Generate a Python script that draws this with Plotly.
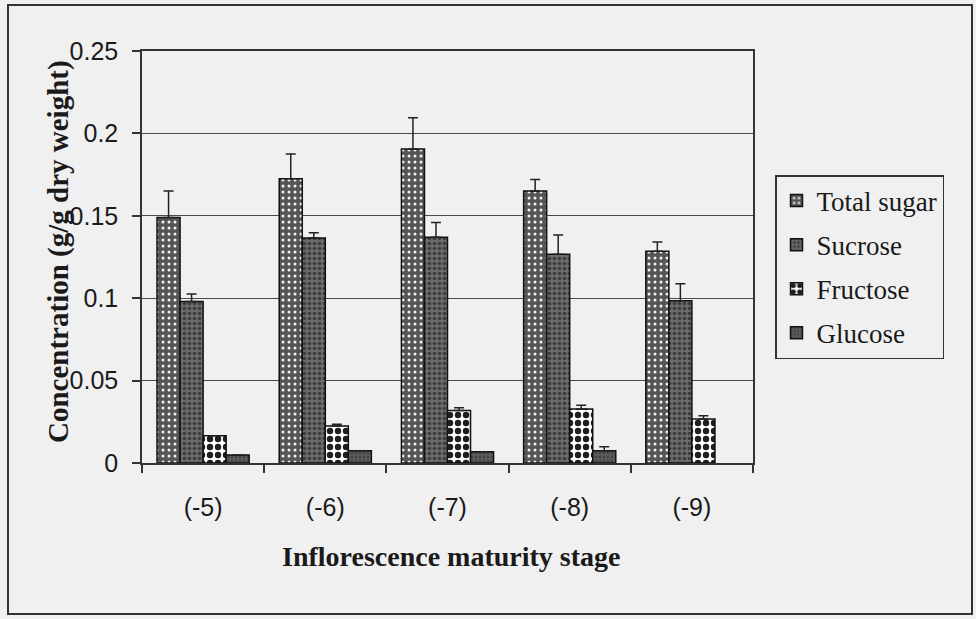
import plotly.graph_objects as go

stages = ["(-5)", "(-6)", "(-7)", "(-8)", "(-9)"]
total_sugar = [0.149, 0.1725, 0.1905, 0.165, 0.1285]
total_err = [0.016, 0.015, 0.019, 0.007, 0.0056]
sucrose = [0.098, 0.1365, 0.137, 0.1266, 0.0985]
sucrose_err = [0.0045, 0.0032, 0.009, 0.0117, 0.0103]
fructose = [0.0166, 0.0225, 0.0318, 0.0328, 0.0267]
fructose_err = [0.0, 0.001, 0.0018, 0.0022, 0.002]
glucose = [0.0049, 0.0075, 0.0069, 0.0075, None]
glucose_err = [0.0, 0.0, 0.0, 0.0024, 0.0]

series = [
    ("Total sugar", total_sugar, total_err, dict(shape=".", bgcolor="#555555", fgcolor="#f2f2f2", size=6, solidity=0.2, fillmode="replace")),
    ("Sucrose", sucrose, sucrose_err, dict(shape=".", bgcolor="#6b6b6b", fgcolor="#3c3c3c", size=5, solidity=0.4, fillmode="replace")),
    ("Fructose", fructose, fructose_err, dict(shape=".", bgcolor="#ffffff", fgcolor="#1e1e1e", size=8, solidity=0.5, fillmode="replace")),
    ("Glucose", glucose, glucose_err, dict(shape=".", bgcolor="#5a5a5a", fgcolor="#444444", size=4, solidity=0.3, fillmode="replace")),
]

W, H = 976, 619
L, R, T, B = 142, 223, 51, 156
PW, PH = W - L - R, H - T - B

fig = go.Figure()
for name, vals, errs, pat in series:
    fig.add_trace(go.Bar(
        name=name, x=stages, y=vals, legendgroup=name,
        marker=dict(color=pat["bgcolor"], pattern=pat, line=dict(color="#111111", width=1.5)),
        error_y=dict(type="data", array=errs, arrayminus=[0] * len(errs), symmetric=False,
                     color="#222222", thickness=1.5, width=5),
    ))

fig.update_layout(
    width=W, height=H,
    margin=dict(l=L, r=R, t=T, b=B),
    paper_bgcolor="#f0f0f0", plot_bgcolor="#f0f0f0",
    barmode="group", bargap=0.246, bargroupgap=0,
    font=dict(family="Liberation Sans, Arial", color="#1a1a1a"),
    legend=dict(
        xref="container", yref="container", x=775 / W, y=1 - 175 / H,
        xanchor="left", yanchor="top",
        bgcolor="rgba(0,0,0,0)", bordercolor="#333333", borderwidth=1.5,
        font=dict(family="Liberation Serif, Times New Roman", size=27, color="#1a1a1a"),
        tracegroupgap=6, itemwidth=30,
    ),
    showlegend=True,
)
fig.update_xaxes(
    type="category", showline=True, linecolor="#333333", linewidth=1.5, mirror=True,
    ticks="outside", tickson="boundaries", ticklen=8, tickcolor="#333333", tickwidth=1.5,
    tickfont=dict(size=25, family="Liberation Sans, Arial"), ticklabelstandoff=21,
)
fig.update_yaxes(
    range=[0, 0.25], dtick=0.05, showline=True, linecolor="#333333", linewidth=1.5, mirror=True,
    ticks="outside", ticklen=8, tickcolor="#333333", tickwidth=1.5,
    showgrid=True, gridcolor="#4a4a4a", gridwidth=1, zeroline=False,
    tickfont=dict(size=25, family="Liberation Sans, Arial"), ticklabelstandoff=9,
)
fig.add_annotation(
    text="<b>Concentration (g/g dry weight)</b>", textangle=-90, showarrow=False,
    xref="paper", yref="paper", x=(58 - L) / PW, y=(463 - 252) / PH,
    xanchor="center", yanchor="middle",
    font=dict(family="Liberation Serif, Times New Roman", size=29, color="#1a1a1a"),
)
fig.add_annotation(
    text="<b>Inflorescence maturity stage</b>", showarrow=False,
    xref="paper", yref="paper", x=(451 - L) / PW, y=(463 - 556) / PH,
    xanchor="center", yanchor="middle",
    font=dict(family="Liberation Serif, Times New Roman", size=28, color="#1a1a1a"),
)
fig.add_shape(type="rect", xref="paper", yref="paper", x0=(8 - L) / PW, x1=(972 - L) / PW,
              y0=(463 - 614) / PH, y1=(463 - 5) / PH, line=dict(color="#333333", width=2), layer="below")

fig.write_html("out.html", config={"displayModeBar": False},
               post_script="document.body.style.margin='0';")
